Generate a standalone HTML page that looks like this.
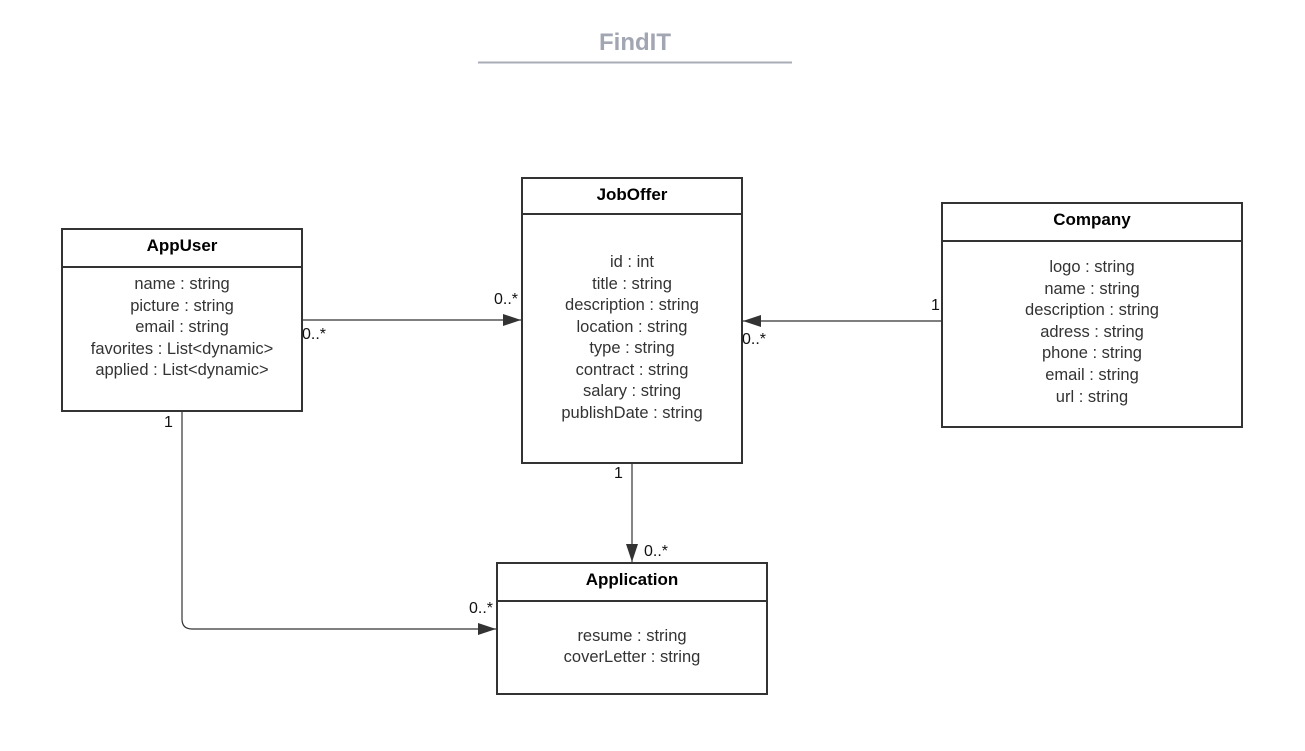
<!DOCTYPE html>
<html><head><meta charset="utf-8"><style>
html,body{margin:0;padding:0;background:#fff;}
svg{display:block;}
text{font-family:"Liberation Sans",sans-serif;}
.a{font-size:16.5px;fill:#333;text-anchor:middle;}
.h{font-size:17px;font-weight:bold;fill:#000;text-anchor:middle;}
.m{font-size:16px;fill:#111;}
</style></head><body>
<svg width="1305" height="751" viewBox="0 0 1305 751" xmlns="http://www.w3.org/2000/svg">
<defs><marker id="ar" markerWidth="18" markerHeight="12" refX="18" refY="6" orient="auto" markerUnits="userSpaceOnUse"><path d="M0,0 L18,6 L0,12 z" fill="#333"/></marker></defs>
<text x="635" y="50" text-anchor="middle" style="font-size:24px;font-weight:bold;fill:#a2a6b2">FindIT</text>
<line x1="478" y1="62.5" x2="792" y2="62.5" stroke="#a9adb9" stroke-width="2"/>
<g fill="#fff" stroke="#333" stroke-width="2">
<rect x="62" y="229" width="240" height="182"/><line x1="62" y1="267" x2="302" y2="267"/>
<rect x="522" y="178" width="220" height="285"/><line x1="522" y1="214" x2="742" y2="214"/>
<rect x="942" y="203" width="300" height="224"/><line x1="942" y1="241" x2="1242" y2="241"/>
<rect x="497" y="563" width="270" height="131"/><line x1="497" y1="601" x2="767" y2="601"/>
</g>
<text class="h" x="182" y="251">AppUser</text>
<g class="a"><text x="182" y="289">name : string</text><text x="182" y="311">picture : string</text><text x="182" y="332">email : string</text><text x="182" y="354">favorites : List&lt;dynamic&gt;</text><text x="182" y="375">applied : List&lt;dynamic&gt;</text></g>
<text class="h" x="632" y="200">JobOffer</text>
<g class="a"><text x="632" y="267">id : int</text><text x="632" y="289">title : string</text><text x="632" y="310">description : string</text><text x="632" y="332">location : string</text><text x="632" y="353">type : string</text><text x="632" y="375">contract : string</text><text x="632" y="396">salary : string</text><text x="632" y="418">publishDate : string</text></g>
<text class="h" x="1092" y="225">Company</text>
<g class="a"><text x="1092" y="272">logo : string</text><text x="1092" y="294">name : string</text><text x="1092" y="315">description : string</text><text x="1092" y="337">adress : string</text><text x="1092" y="358">phone : string</text><text x="1092" y="380">email : string</text><text x="1092" y="402">url : string</text></g>
<text class="h" x="632" y="585">Application</text>
<g class="a"><text x="632" y="641">resume : string</text><text x="632" y="662">coverLetter : string</text></g>
<g stroke="#333" stroke-width="1.2" fill="none">
<line x1="303" y1="320" x2="521" y2="320" marker-end="url(#ar)"/>
<line x1="941" y1="321" x2="743" y2="321" marker-end="url(#ar)"/>
<line x1="632" y1="464" x2="632" y2="562" marker-end="url(#ar)"/>
<path d="M182,412 L182,619 Q182,629 192,629 L496,629" marker-end="url(#ar)"/>
</g>
<g class="m">
<text x="494" y="304">0..*</text><text x="302" y="339">0..*</text>
<text x="931" y="310">1</text><text x="742" y="344">0..*</text>
<text x="614" y="478">1</text><text x="644" y="556">0..*</text>
<text x="164" y="427">1</text><text x="469" y="613">0..*</text>
</g>
</svg>
</body></html>
